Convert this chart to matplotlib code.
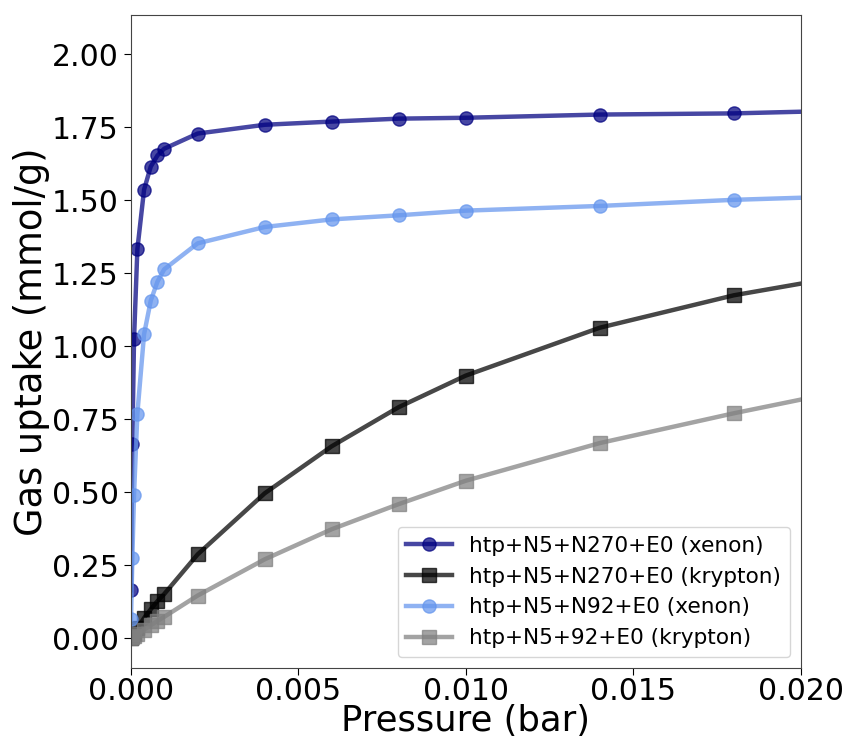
import matplotlib
matplotlib.use("Agg")
import matplotlib.pyplot as plt

# Pressures (bar)
pressure = [0.00001, 0.00005, 0.0001, 0.0002, 0.0004, 0.0006, 0.0008, 0.001,
            0.002, 0.004, 0.006, 0.008, 0.010, 0.014, 0.018, 0.025]

xe_n270 = [0.165, 0.665, 1.025, 1.333, 1.537, 1.616, 1.654, 1.677,
           1.729, 1.759, 1.770, 1.780, 1.783, 1.794, 1.798, 1.818]
kr_n270 = [0.002, 0.008, 0.016, 0.035, 0.070, 0.100, 0.128, 0.152,
           0.288, 0.497, 0.658, 0.792, 0.900, 1.064, 1.175, 1.315]
xe_n92 = [0.065, 0.277, 0.492, 0.770, 1.042, 1.157, 1.222, 1.264,
          1.353, 1.409, 1.435, 1.449, 1.465, 1.481, 1.502, 1.527]
kr_n92 = [0.001, 0.004, 0.008, 0.016, 0.030, 0.045, 0.060, 0.074,
          0.147, 0.271, 0.374, 0.460, 0.540, 0.669, 0.771, 0.935]

labels = ["htp+N5+N270+E0 (xenon)", "htp+N5+N270+E0 (krypton)",
          "htp+N5+N92+E0 (xenon)", "htp+N5+92+E0 (krypton)"]

fig = plt.figure(figsize=(8.48, 7.45), dpi=100)
ax = fig.add_axes([0.1541, 0.1038, 0.7901, 0.8761])

style = dict(linewidth=3.2, markersize=9.5, alpha=0.72)
ax.plot(pressure, xe_n270, color="navy", marker="o", label=labels[0], **style)
ax.plot(pressure, kr_n270, color="black", marker="s", label=labels[1], **style)
ax.plot(pressure, xe_n92, color="cornflowerblue", marker="o", label=labels[2], **style)
ax.plot(pressure, kr_n92, color="grey", marker="s", label=labels[3], **style)

ax.set_xlim(0, 0.02)
ax.set_ylim(-0.1, 2.135)
ax.set_xticks([0.0, 0.005, 0.010, 0.015, 0.020])
ax.set_xticklabels(["0.000", "0.005", "0.010", "0.015", "0.020"])
ax.set_yticks([0.0, 0.25, 0.5, 0.75, 1.0, 1.25, 1.5, 1.75, 2.0])
ax.set_yticklabels(["0.00", "0.25", "0.50", "0.75", "1.00", "1.25", "1.50", "1.75", "2.00"])
ax.tick_params(labelsize=21.5, length=5)
ax.tick_params(axis="x", pad=2)
ax.set_xlabel("Pressure (bar)", fontsize=25.5, labelpad=-1.5)
ax.set_ylabel("Gas uptake (mmol/g)", fontsize=26.5, labelpad=1)
for s in ax.spines.values():
    s.set_color("#444444")

ax.legend(loc="lower right", fontsize=15.6, handlelength=2.1, borderaxespad=0.5)

fig.savefig("out.png", dpi=100)
